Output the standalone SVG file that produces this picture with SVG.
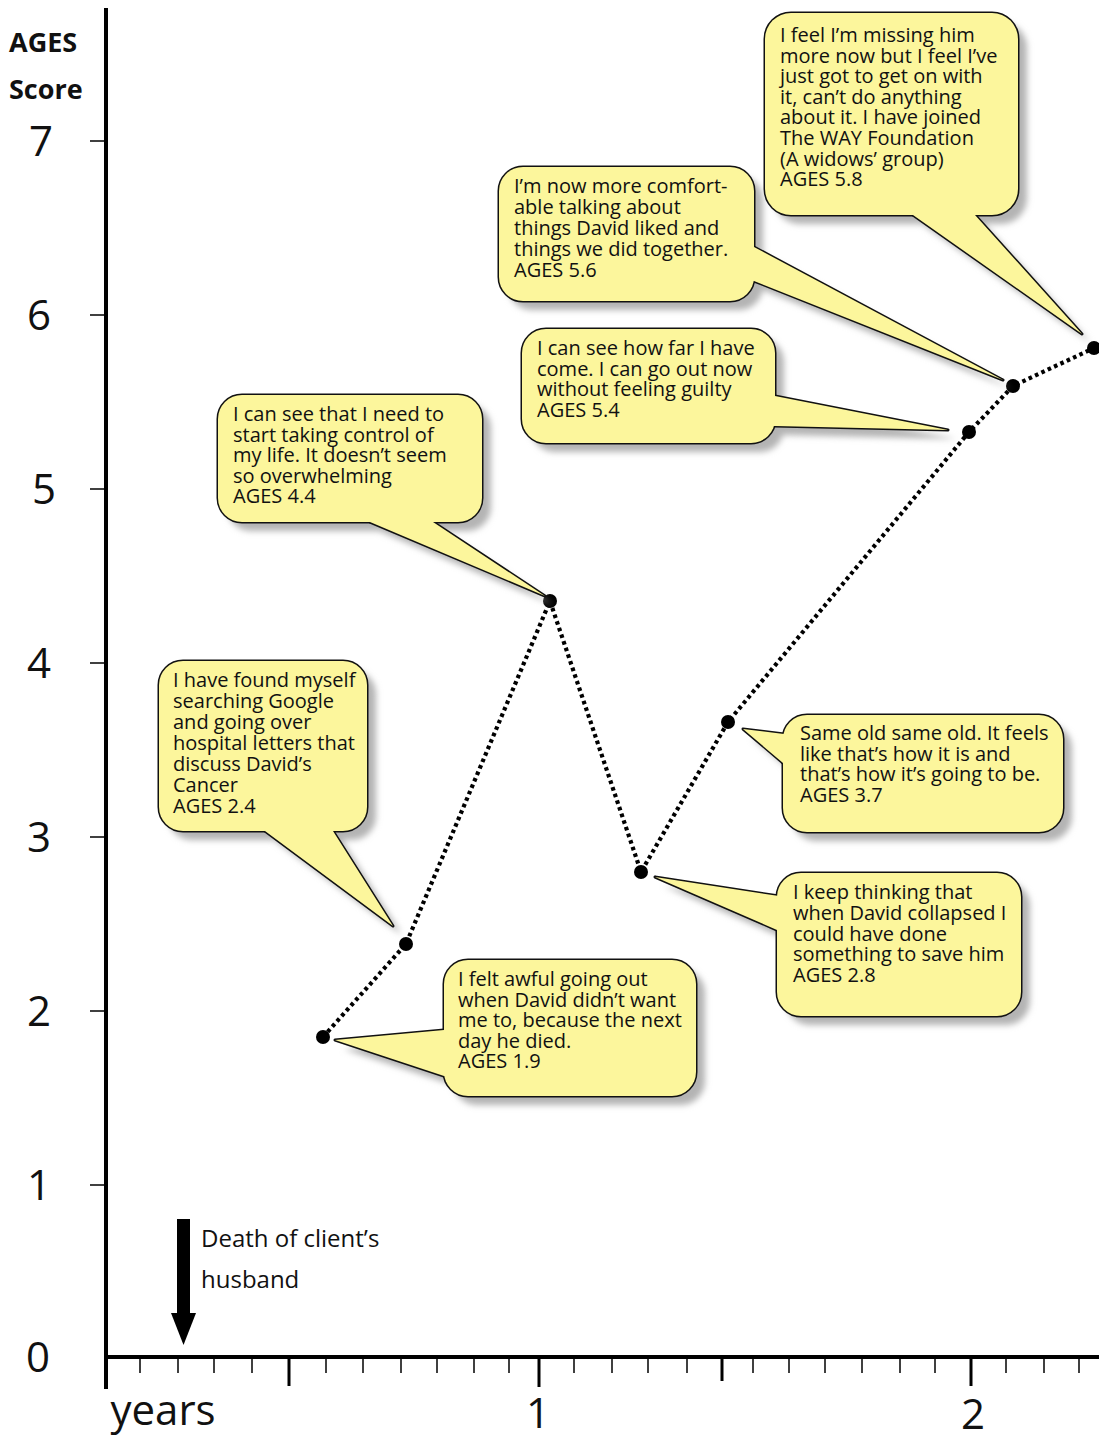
<svg xmlns="http://www.w3.org/2000/svg" width="1099" height="1439" viewBox="0 0 1099 1439">
<style>
.ax{stroke:#000;stroke-width:4;fill:none;stroke-linecap:butt}
.tk{stroke:#000;stroke-width:1.5}
.tkm{stroke:#000;stroke-width:3}
.num{font-family:"Open Sans","Liberation Sans",sans-serif;font-size:42px;fill:#111;text-anchor:middle}
.hd{font-family:"Open Sans","Liberation Sans",sans-serif;font-size:27px;font-weight:bold;fill:#111}
.lbl{font-family:"Open Sans","Liberation Sans",sans-serif;font-size:24px;fill:#111}
.t{font-family:"Open Sans","Liberation Sans",sans-serif;font-size:20px;fill:#111}
.sh{fill:#b4b4b4;stroke:none}
.ol{fill:none;stroke:#111;stroke-width:3;stroke-linejoin:round}
.fl{fill:#fcf69c;stroke:none}
.dl{fill:none;stroke:#000;stroke-width:4.2;stroke-dasharray:3.6 3.4}
.pt{fill:#000}
</style>
<defs>
<filter id="blur" x="-10%" y="-10%" width="130%" height="130%"><feGaussianBlur stdDeviation="3"/></filter>
<rect id="r1" x="159" y="661" width="208" height="170" rx="24"/>
<polygon id="p1" points="265,815 265,831 393,926 333,831 333,815"/>
<rect id="r2" x="444" y="960" width="252" height="136" rx="24"/>
<polygon id="p2" points="462,1030 444,1030 335,1040 444,1076 462,1076"/>
<rect id="r3" x="218" y="395" width="264" height="127" rx="24"/>
<polygon id="p3" points="370,506 370,522 545,596 433,522 433,506"/>
<rect id="r4" x="499" y="167" width="255" height="134" rx="24"/>
<polygon id="p4" points="736,247 754,247 1003,380 754,281 736,281"/>
<rect id="r5" x="522" y="329" width="253" height="114" rx="24"/>
<polygon id="p5" points="757,396 775,396 948,430 775,426 757,426"/>
<rect id="r6" x="765" y="13" width="253" height="202" rx="26"/>
<polygon id="p6" points="913,199 913,215 1082,334 975,215 975,199"/>
<rect id="r7" x="783" y="715" width="280" height="117" rx="24"/>
<polygon id="p7" points="805,736 784,734 743,729 783,763 805,763"/>
<rect id="r8" x="777" y="873" width="244" height="143" rx="24"/>
<polygon id="p8" points="800,897 779,896 655,877 777,930 800,930"/>
</defs>

<g id="axes">
<line class="ax" x1="106" y1="8" x2="106" y2="1389"/>
<line class="ax" x1="104" y1="1357" x2="1099" y2="1357"/>
<g id="yticks">
<line class="tk" x1="90" y1="141" x2="106" y2="141"/>
<line class="tk" x1="90" y1="315" x2="106" y2="315"/>
<line class="tk" x1="90" y1="489" x2="106" y2="489"/>
<line class="tk" x1="90" y1="663" x2="106" y2="663"/>
<line class="tk" x1="90" y1="837" x2="106" y2="837"/>
<line class="tk" x1="90" y1="1011" x2="106" y2="1011"/>
<line class="tk" x1="90" y1="1185" x2="106" y2="1185"/>
</g>
<g id="xticks">
<line class="tk" x1="140" y1="1357" x2="140" y2="1373"/>
<line class="tk" x1="178" y1="1357" x2="178" y2="1373"/>
<line class="tk" x1="214" y1="1357" x2="214" y2="1373"/>
<line class="tk" x1="252" y1="1357" x2="252" y2="1373"/>
<line class="tkm" x1="289" y1="1357" x2="289" y2="1386"/>
<line class="tk" x1="326" y1="1357" x2="326" y2="1373"/>
<line class="tk" x1="363" y1="1357" x2="363" y2="1373"/>
<line class="tk" x1="401" y1="1357" x2="401" y2="1373"/>
<line class="tk" x1="437" y1="1357" x2="437" y2="1373"/>
<line class="tk" x1="474" y1="1357" x2="474" y2="1373"/>
<line class="tk" x1="509" y1="1357" x2="509" y2="1373"/>
<line class="tkm" x1="539" y1="1357" x2="539" y2="1387"/>
<line class="tk" x1="574" y1="1357" x2="574" y2="1373"/>
<line class="tk" x1="612" y1="1357" x2="612" y2="1373"/>
<line class="tk" x1="648" y1="1357" x2="648" y2="1373"/>
<line class="tk" x1="687" y1="1357" x2="687" y2="1373"/>
<line class="tkm" x1="722" y1="1357" x2="722" y2="1381"/>
<line class="tk" x1="753" y1="1357" x2="753" y2="1373"/>
<line class="tk" x1="789" y1="1357" x2="789" y2="1373"/>
<line class="tk" x1="825" y1="1357" x2="825" y2="1373"/>
<line class="tk" x1="862" y1="1357" x2="862" y2="1373"/>
<line class="tk" x1="900" y1="1357" x2="900" y2="1373"/>
<line class="tk" x1="935" y1="1357" x2="935" y2="1373"/>
<line class="tkm" x1="971" y1="1357" x2="971" y2="1386"/>
<line class="tk" x1="1006" y1="1357" x2="1006" y2="1373"/>
<line class="tk" x1="1044" y1="1357" x2="1044" y2="1373"/>
<line class="tk" x1="1079" y1="1357" x2="1079" y2="1373"/>
</g>
<text class="hd" x="9" y="52">AGES</text>
<text class="hd" x="9" y="99">Score</text>
<text class="num" x="41" y="156">7</text>
<text class="num" x="39" y="330">6</text>
<text class="num" x="44" y="504">5</text>
<text class="num" x="39" y="678">4</text>
<text class="num" x="39" y="852">3</text>
<text class="num" x="39" y="1026">2</text>
<text class="num" x="39" y="1200">1</text>
<text class="num" x="38" y="1372">0</text>
<text class="num" x="163" y="1425" font-size="41">years</text>
<text class="num" x="538" y="1428">1</text>
<text class="num" x="973" y="1429">2</text>
</g>

<g id="death-marker">
<rect x="177" y="1219" width="13" height="96" fill="#000"/>
<polygon points="171,1313 196,1313 183.5,1345" fill="#000"/>
<text class="lbl" x="201" y="1247">Death of client’s</text>
<text class="lbl" x="201" y="1288">husband</text>
</g>

<g id="connectors">
<polyline class="dl" points="323,1037 406,944 550,601 641,872 728,722 969,432 1013,386 1094,348"/>
<circle class="pt" cx="323" cy="1037" r="7"/>
<circle class="pt" cx="406" cy="944" r="7"/>
<circle class="pt" cx="550" cy="601" r="7"/>
<circle class="pt" cx="641" cy="872" r="7"/>
<circle class="pt" cx="728" cy="722" r="7"/>
<circle class="pt" cx="969" cy="432" r="7"/>
<circle class="pt" cx="1013" cy="386" r="7"/>
<circle class="pt" cx="1094" cy="348" r="7"/>
</g>

<g id="c1">
<g filter="url(#blur)" transform="translate(9,9)"><use href="#r1" class="sh"/><use href="#p1" class="sh"/></g>
<use href="#r1" class="ol"/><use href="#p1" class="ol"/><use href="#r1" class="fl"/><use href="#p1" class="fl"/>
<text class="t"><tspan x="173" y="687">I have found myself</tspan><tspan x="173" y="708">searching Google</tspan><tspan x="173" y="729">and going over</tspan><tspan x="173" y="750">hospital letters that</tspan><tspan x="173" y="771">discuss David’s</tspan><tspan x="173" y="792">Cancer</tspan><tspan x="173" y="813">AGES 2.4</tspan></text>
</g>

<g id="c2">
<g filter="url(#blur)" transform="translate(9,9)"><use href="#r2" class="sh"/><use href="#p2" class="sh"/></g>
<use href="#r2" class="ol"/><use href="#p2" class="ol"/><use href="#r2" class="fl"/><use href="#p2" class="fl"/>
<text class="t"><tspan x="458" y="986">I felt awful going out</tspan><tspan x="458" y="1007">when David didn’t want</tspan><tspan x="458" y="1027">me to, because the next</tspan><tspan x="458" y="1048">day he died.</tspan><tspan x="458" y="1068">AGES 1.9</tspan></text>
</g>

<g id="c3">
<g filter="url(#blur)" transform="translate(9,9)"><use href="#r3" class="sh"/><use href="#p3" class="sh"/></g>
<use href="#r3" class="ol"/><use href="#p3" class="ol"/><use href="#r3" class="fl"/><use href="#p3" class="fl"/>
<text class="t"><tspan x="233" y="421">I can see that I need to</tspan><tspan x="233" y="442">start taking control of</tspan><tspan x="233" y="462">my life. It doesn’t seem</tspan><tspan x="233" y="483">so overwhelming</tspan><tspan x="233" y="503">AGES 4.4</tspan></text>
</g>

<g id="c4">
<g filter="url(#blur)" transform="translate(9,9)"><use href="#r4" class="sh"/><use href="#p4" class="sh"/></g>
<use href="#r4" class="ol"/><use href="#p4" class="ol"/><use href="#r4" class="fl"/><use href="#p4" class="fl"/>
<text class="t"><tspan x="514" y="193">I’m now more comfort-</tspan><tspan x="514" y="214">able talking about</tspan><tspan x="514" y="235">things David liked and</tspan><tspan x="514" y="256">things we did together.</tspan><tspan x="514" y="277">AGES 5.6</tspan></text>
</g>

<g id="c5">
<g filter="url(#blur)" transform="translate(9,9)"><use href="#r5" class="sh"/><use href="#p5" class="sh"/></g>
<use href="#r5" class="ol"/><use href="#p5" class="ol"/><use href="#r5" class="fl"/><use href="#p5" class="fl"/>
<text class="t"><tspan x="537" y="355">I can see how far I have</tspan><tspan x="537" y="376">come. I can go out now</tspan><tspan x="537" y="396">without feeling guilty</tspan><tspan x="537" y="417">AGES 5.4</tspan></text>
</g>

<g id="c6">
<g filter="url(#blur)" transform="translate(9,9)"><use href="#r6" class="sh"/><use href="#p6" class="sh"/></g>
<use href="#r6" class="ol"/><use href="#p6" class="ol"/><use href="#r6" class="fl"/><use href="#p6" class="fl"/>
<text class="t"><tspan x="780" y="42">I feel I’m missing him</tspan><tspan x="780" y="63">more now but I feel I’ve</tspan><tspan x="780" y="83">just got to get on with</tspan><tspan x="780" y="104">it, can’t do anything</tspan><tspan x="780" y="124">about it. I have joined</tspan><tspan x="780" y="145">The WAY Foundation</tspan><tspan x="780" y="166">(A widows’ group)</tspan><tspan x="780" y="186">AGES 5.8</tspan></text>
</g>

<g id="c7">
<g filter="url(#blur)" transform="translate(9,9)"><use href="#r7" class="sh"/><use href="#p7" class="sh"/></g>
<use href="#r7" class="ol"/><use href="#p7" class="ol"/><use href="#r7" class="fl"/><use href="#p7" class="fl"/>
<text class="t"><tspan x="800" y="740">Same old same old. It feels</tspan><tspan x="800" y="761">like that’s how it is and</tspan><tspan x="800" y="781">that’s how it’s going to be.</tspan><tspan x="800" y="802">AGES 3.7</tspan></text>
</g>

<g id="c8">
<g filter="url(#blur)" transform="translate(9,9)"><use href="#r8" class="sh"/><use href="#p8" class="sh"/></g>
<use href="#r8" class="ol"/><use href="#p8" class="ol"/><use href="#r8" class="fl"/><use href="#p8" class="fl"/>
<text class="t"><tspan x="793" y="899">I keep thinking that</tspan><tspan x="793" y="920">when David collapsed I</tspan><tspan x="793" y="941">could have done</tspan><tspan x="793" y="961">something to save him</tspan><tspan x="793" y="982">AGES 2.8</tspan></text>
</g>
</svg>
